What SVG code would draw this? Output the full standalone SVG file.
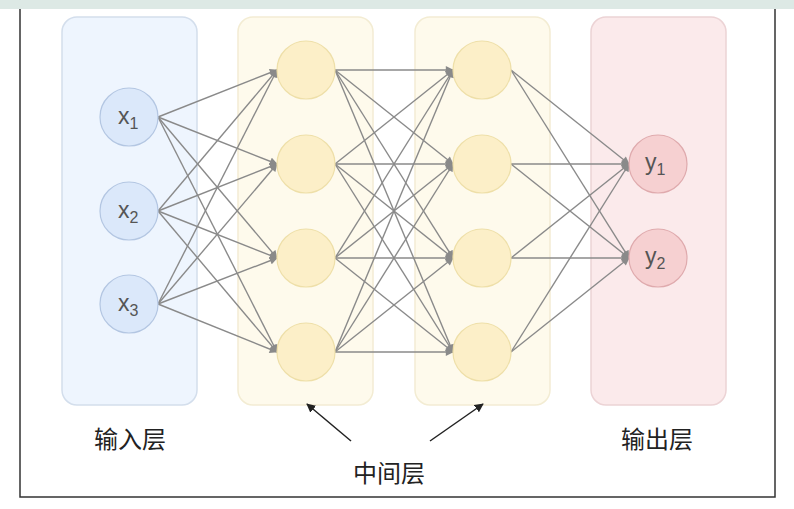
<svg xmlns="http://www.w3.org/2000/svg" width="794" height="509" viewBox="0 0 794 509">
<defs>
<marker id="ah" viewBox="0 0 10 10" refX="9" refY="5" markerWidth="9" markerHeight="8" markerUnits="userSpaceOnUse" orient="auto">
<path d="M0,0 L10,5 L0,10 z" fill="#8a8a8a"/>
</marker>
<marker id="ak" viewBox="0 0 10 10" refX="9" refY="5" markerWidth="9" markerHeight="9" markerUnits="userSpaceOnUse" orient="auto">
<path d="M0,0 L10,5 L0,10 z" fill="#222"/>
</marker>
</defs>
<style>
.in{fill:#eef5fe;stroke:#d3deec;stroke-width:1.5}
.hid{fill:#fefaec;stroke:#f3ecd3;stroke-width:1.5}
.out{fill:#fbeaeb;stroke:#ecd3d5;stroke-width:1.5}
.nin{fill:#dbe8fa;stroke:#b3c6e2;stroke-width:1.2}
.nh{fill:#fcefc8;stroke:#eedfa8;stroke-width:1.2}
.no{fill:#f6d0d1;stroke:#dfaaad;stroke-width:1.2}
.e{stroke:#8a8a8a;stroke-width:1.4;fill:none;marker-end:url(#ah)}
.lbl{font-family:"Liberation Sans",Arial,sans-serif;fill:#555;font-size:23px}
.sub{font-size:16px}
.cn{font-family:"Noto Sans CJK SC","Noto Sans",sans-serif;fill:#222;font-size:24px;text-anchor:middle}
</style>
<rect width="794" height="509" fill="#ffffff"/>
<rect x="0" y="0" width="794" height="9" fill="#dde9e5"/>
<path d="M20,9 V497 H775 V9" fill="none" stroke="#333" stroke-width="1.5"/>
<g id="panel-input"><rect class="in" x="62" y="17" width="135" height="388" rx="15"/></g>
<g id="panel-hidden1"><rect class="hid" x="238" y="17" width="135" height="388" rx="15"/></g>
<g id="panel-hidden2"><rect class="hid" x="415" y="17" width="135" height="388" rx="15"/></g>
<g id="panel-output"><rect class="out" x="591" y="17" width="135" height="388" rx="15"/></g>
<g id="connectors">
<path class="e" d="M158,117 L277,70"/><path class="e" d="M158,117 L277,164"/><path class="e" d="M158,117 L277,258"/><path class="e" d="M158,117 L277,352"/>
<path class="e" d="M158,211 L277,70"/><path class="e" d="M158,211 L277,164"/><path class="e" d="M158,211 L277,258"/><path class="e" d="M158,211 L277,352"/>
<path class="e" d="M158,304 L277,70"/><path class="e" d="M158,304 L277,164"/><path class="e" d="M158,304 L277,258"/><path class="e" d="M158,304 L277,352"/>
<path class="e" d="M335,70 L453,70"/><path class="e" d="M335,70 L453,164"/><path class="e" d="M335,70 L453,258"/><path class="e" d="M335,70 L453,352"/>
<path class="e" d="M335,164 L453,70"/><path class="e" d="M335,164 L453,164"/><path class="e" d="M335,164 L453,258"/><path class="e" d="M335,164 L453,352"/>
<path class="e" d="M335,258 L453,70"/><path class="e" d="M335,258 L453,164"/><path class="e" d="M335,258 L453,258"/><path class="e" d="M335,258 L453,352"/>
<path class="e" d="M335,352 L453,70"/><path class="e" d="M335,352 L453,164"/><path class="e" d="M335,352 L453,258"/><path class="e" d="M335,352 L453,352"/>
<path class="e" d="M511,70 L629,164"/><path class="e" d="M511,70 L629,258"/>
<path class="e" d="M511,164 L629,164"/><path class="e" d="M511,164 L629,258"/>
<path class="e" d="M511,258 L629,164"/><path class="e" d="M511,258 L629,258"/>
<path class="e" d="M511,352 L629,164"/><path class="e" d="M511,352 L629,258"/>
<path d="M351,441 L307,404" stroke="#222" stroke-width="1.5" fill="none" marker-end="url(#ak)"/>
<path d="M430,441 L483,404" stroke="#222" stroke-width="1.5" fill="none" marker-end="url(#ak)"/>
</g>
<g id="x1"><circle class="nin" cx="129" cy="117" r="29"/><text class="lbl" x="118" y="124">x<tspan class="sub" dy="5">1</tspan></text></g>
<g id="x2"><circle class="nin" cx="129" cy="211" r="29"/><text class="lbl" x="118" y="218">x<tspan class="sub" dy="5">2</tspan></text></g>
<g id="x3"><circle class="nin" cx="129" cy="304" r="29"/><text class="lbl" x="118" y="311">x<tspan class="sub" dy="5">3</tspan></text></g>
<g id="h1a"><circle class="nh" cx="306" cy="70" r="29"/></g>
<g id="h1b"><circle class="nh" cx="306" cy="164" r="29"/></g>
<g id="h1c"><circle class="nh" cx="306" cy="258" r="29"/></g>
<g id="h1d"><circle class="nh" cx="306" cy="352" r="29"/></g>
<g id="h2a"><circle class="nh" cx="482" cy="70" r="29"/></g>
<g id="h2b"><circle class="nh" cx="482" cy="164" r="29"/></g>
<g id="h2c"><circle class="nh" cx="482" cy="258" r="29"/></g>
<g id="h2d"><circle class="nh" cx="482" cy="352" r="29"/></g>
<g id="y1"><circle class="no" cx="658" cy="164" r="29"/><text class="lbl" x="645" y="170">y<tspan class="sub" dy="5">1</tspan></text></g>
<g id="y2"><circle class="no" cx="658" cy="258" r="29"/><text class="lbl" x="645" y="264">y<tspan class="sub" dy="5">2</tspan></text></g>
<g id="labels">
<text class="cn" x="130" y="448">输入层</text>
<text class="cn" x="389" y="482">中间层</text>
<text class="cn" x="657" y="448">输出层</text>
</g>
</svg>
